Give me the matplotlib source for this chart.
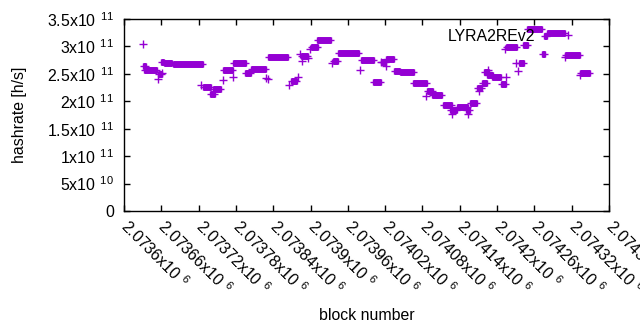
import numpy as np
import matplotlib
matplotlib.use("Agg")
import matplotlib.pyplot as plt
from matplotlib.ticker import FixedLocator, FuncFormatter

plt.rcParams['font.family'] = ['Liberation Sans', 'DejaVu Sans']
plt.rcParams['mathtext.fontset'] = 'custom'
plt.rcParams['mathtext.rm'] = 'Liberation Sans'
plt.rcParams['mathtext.default'] = 'regular'

PURPLE = '#9400d3'
LABEL = "LYRA2REv2"
FS = 11.4

# runs of blocks with the same hashrate (units of 1e11 h/s)
run_start = [2073631, 2073632, 2073655, 2073659, 2073664, 2073678, 2073727, 2073743,
             2073739, 2073759, 2073776, 2073794, 2073805, 2073832, 2073868, 2073885,
             2073900, 2073910, 2073936, 2073944, 2073981, 2074001, 2074013, 2074021,
             2074034, 2074044, 2074065, 2074087, 2074095, 2074102, 2074113, 2074124,
             2074136, 2074150, 2074156, 2074168, 2074175, 2074179, 2074184, 2074192,
             2074207, 2074215, 2074242, 2074235, 2074248, 2074273, 2074275, 2074280,
             2074310, 2074334]
run_end = [2073635, 2073653, 2073661, 2073665, 2073677, 2073727, 2073740, 2073756,
           2073746, 2073775, 2073796, 2073804, 2073828, 2073864, 2073879, 2073896,
           2073912, 2073933, 2073944, 2073978, 2074002, 2074013, 2074021, 2074035,
           2074044, 2074066, 2074087, 2074097, 2074103, 2074112, 2074127, 2074135,
           2074154, 2074156, 2074167, 2074175, 2074183, 2074187, 2074194, 2074206,
           2074214, 2074232, 2074250, 2074244, 2074273, 2074277, 2074281, 2074309,
           2074333, 2074350]
run_rate = [2.643, 2.570, 2.497, 2.721, 2.692, 2.680, 2.255, 2.229,
            2.133, 2.570, 2.698, 2.521, 2.583, 2.802, 2.375, 2.831,
            2.995, 3.111, 2.740, 2.875, 2.747, 2.346, 2.716, 2.765,
            2.557, 2.528, 2.328, 2.193, 2.114, 2.109, 1.927, 1.841,
            1.890, 1.841, 1.963, 2.242, 2.339, 2.534, 2.479, 2.437,
            2.315, 2.995, 3.020, 2.703, 3.312, 2.856, 3.199, 3.239,
            2.838, 2.510]

# single blocks in between
pt_block = [2073631, 2073654, 2073661, 2073724, 2073759, 2073776, 2073828, 2073832,
            2073865, 2073880, 2073883, 2073887, 2073896, 2073899, 2073934, 2073980,
            2074014, 2074021, 2074086, 2074128, 2074154, 2074171, 2074185, 2074214,
            2074213, 2074234, 2074231, 2074309, 2074333]
pt_rate = [3.039, 2.401, 2.510, 2.297, 2.382, 2.448, 2.424, 2.400,
           2.291, 2.448, 2.856, 2.740, 2.783, 2.953, 2.692, 2.570,
           2.721, 2.643, 2.096, 1.768, 1.763, 2.193, 2.570, 2.448,
           2.958, 2.552, 2.692, 2.802, 2.474]

xticks = np.arange(2073600, 2074381, 60)
yticks = [0, 0.5, 1, 1.5, 2, 2.5, 3, 3.5]
SUP = '$^{\\ \\,%s}$'
ytick_labels = ['0', '5x10' + SUP % '10', '1x10' + SUP % '11', '1.5x10' + SUP % '11',
                '2x10' + SUP % '11', '2.5x10' + SUP % '11', '3x10' + SUP % '11',
                '3.5x10' + SUP % '11']

fig = plt.figure(figsize=(6.4, 3.3), dpi=100)
ax = fig.add_axes([124 / 640, 1 - 211 / 330, 485 / 640, 192 / 330])

ms = 5.0
ax.hlines(run_rate, run_start, run_end, colors=PURPLE, linewidth=ms, capstyle='butt')
ax.plot(run_start + run_end, run_rate + run_rate, '+', color=PURPLE, ms=ms, mew=1.0)
ax.plot(pt_block, pt_rate, '+', color=PURPLE, ms=ms + 1, mew=1.0, label=LABEL)

ax.set_xlim(2073600, 2074380)
ax.set_ylim(0, 3.5)
ax.xaxis.set_major_locator(FixedLocator(xticks))
ax.xaxis.set_major_formatter(FuncFormatter(lambda v, p: f'{v / 1e6:g}x10' + SUP % '6'))
ax.set_yticks(yticks)
ax.set_yticklabels(ytick_labels)
ax.tick_params(direction='in', length=4.5, width=1, top=True, right=True, labelsize=FS,
               pad=7)
ax.tick_params(axis='x', pad=9)
for lab in ax.get_xticklabels():
    lab.set_rotation(-45)
    lab.set_ha('left')
    lab.set_va('center')
    lab.set_rotation_mode('anchor')
for s in ax.spines.values():
    s.set_linewidth(1)

ax.set_ylabel("hashrate [h/s]", fontsize=FS)
ax.yaxis.set_label_coords(-0.2, 0.5)
ax.set_xlabel("block number", fontsize=FS)
ax.xaxis.set_label_coords(0.5, -0.505)

ax.legend(loc='upper right', frameon=False, markerfirst=False, numpoints=1,
          handlelength=2.5, handletextpad=0.8, fontsize=FS,
          borderaxespad=0.2, bbox_to_anchor=(0.975, 1.0))

fig.savefig("out.png", dpi=100)
